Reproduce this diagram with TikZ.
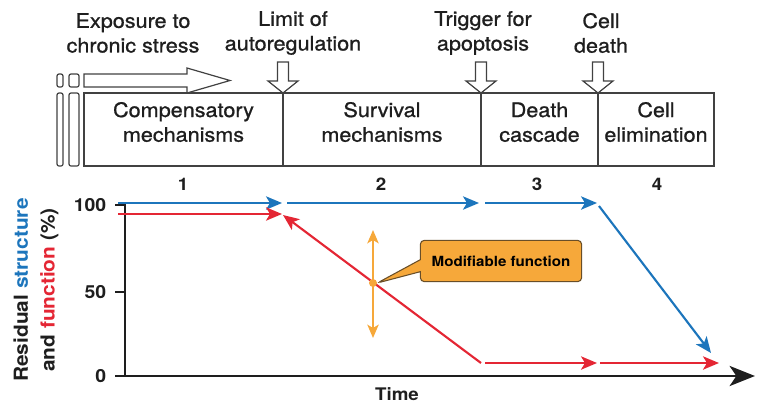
\documentclass[tikz,border=0pt]{standalone}
\usepackage{fontspec}
\setmainfont{TeX Gyre Heros}[FakeStretch=1.08,UprightFeatures={FakeBold=0.9}]
\usetikzlibrary{arrows.meta,fit,shapes.callouts}
\definecolor{strclr}{RGB}{28,117,188}
\definecolor{fnclr}{RGB}{228,38,52}
\definecolor{modclr}{RGB}{246,168,58}
\definecolor{modedge}{RGB}{105,78,40}
\definecolor{boxclr}{RGB}{65,65,65}
\definecolor{inkclr}{RGB}{30,30,30}
\tikzset{
  phase/.style={draw=boxclr,line width=0.9pt,inner sep=0pt,align=center,text=inkclr,
                font=\fontsize{15}{18.5}\selectfont},
  event/.style={align=center,text=inkclr,font=\fontsize{15}{18.5}\selectfont},
  stagenum/.style={text=inkclr,font=\bfseries\fontsize{13}{15}\selectfont},
  ticklbl/.style={anchor=east,text=inkclr,font=\bfseries\fontsize{13.5}{15}\selectfont},
  blockarrow/.style={draw=boxclr,line width=0.9pt,fill=white,line join=miter},
  slot/.style={draw=boxclr,line width=0.9pt,rounded corners=1.5pt},
  trend/.style={line width=1.6pt,-{Stealth[length=12pt,width=10pt,inset=3pt]}},
  axis/.style={line width=2.2pt,draw=inkclr},
  modbox/.style={rectangle callout,draw=modedge,fill=modclr,line width=0.8pt,
                 rounded corners=3pt,minimum width=121pt,minimum height=31pt,
                 callout pointer width=9pt,font=\bfseries\fontsize{10.5}{12}\selectfont},
}

\begin{document}
\begin{tikzpicture}[x=0.75pt,y=-0.75pt]
\useasboundingbox (0,0) rectangle (767,415);

% event labels
\node[event] (expo) at (133,33) {Exposure to\\chronic stress};
\node[event] (limit) at (293,33) {Limit of\\autoregulation};
\node[event] (trig) at (483,33) {Trigger for\\apoptosis};
\node[event] (death) at (601,33) {Cell\\death};

% phase boxes
\node[phase,fit={(84,93) (283,166)}] (comp) {Compensatory\\mechanisms};
\node[phase,fit={(283,93) (481,166)}] (surv) {Survival\\mechanisms};
\node[phase,fit={(481,93) (598,166)}] (casc) {Death\\cascade};
\node[phase,fit={(598,93) (714,166)}] (elim) {Cell\\elimination};

% slots and stress arrow
\draw[slot] (57,74) rectangle (63,87);
\draw[slot] (69,74) rectangle (79,87);
\draw[slot] (57,93) rectangle (63,166);
\draw[slot] (69,93) rectangle (79,166);
\draw[blockarrow] (84,74) -- (187,74) -- (187,68) -- (230,80.5)
  -- (187,93) -- (187,87) -- (84,87) -- cycle;
\foreach \x in {283,481,598}
  \draw[blockarrow] (\x-5.5,62) -- (\x+5.5,62) -- (\x+5.5,81) -- (\x+15,81)
    -- (\x,93) -- (\x-15,81) -- (\x-5.5,81) -- cycle;

% stage numbers
\node[stagenum] (n1) at (183,184) {1};
\node[stagenum] (n2) at (381,184) {2};
\node[stagenum] (n3) at (537,184) {3};
\node[stagenum] (n4) at (657,184) {4};

% axes
\coordinate (yhi) at (125,203);
\coordinate (orig) at (125,376);
\coordinate (xlo) at (115,376);
\coordinate (xhi) at (755,376);
\draw[axis] (yhi) -- (orig);
\draw[axis,-{Stealth[length=19pt,width=15pt,inset=5pt]}] (xlo) -- (xhi);
\foreach \v/\y in {100/205,50/292,0/376} {
  \draw[axis,line width=1.6pt] (115,\y) -- (125,\y);
  \node[ticklbl] (t\v) at (111,\y) {\v};
}
\node[text=inkclr,font=\bfseries\fontsize{13}{15}\selectfont] (time) at (397,394) {Time};
\node[rotate=90,align=center,text=inkclr,font=\bfseries\fontsize{14.5}{20}\selectfont] (ylbl) at (36,290)
  {Residual \textcolor{strclr}{structure}\\and \textcolor{fnclr}{function} (\%)};

% structure
\coordinate (s0) at (118,203);
\coordinate (s1) at (282,203);
\coordinate (s2) at (287,203);
\coordinate (s3) at (479,203);
\coordinate (s4) at (485,203);
\coordinate (s5) at (597,203);
\coordinate (s6) at (599,206);
\coordinate (s7) at (711,353);
\draw[trend,strclr] (s0) -- (s1);
\draw[trend,strclr] (s2) -- (s3);
\draw[trend,strclr] (s4) -- (s5);
\draw[trend,strclr] (s6) -- (s7);

% function
\coordinate (f0) at (118,214);
\coordinate (f1) at (282,214);
\coordinate (f2) at (283,215);
\coordinate (f3) at (481,363);
\coordinate (f4) at (485,363);
\coordinate (f5) at (597,363);
\coordinate (f6) at (600,363);
\coordinate (f7) at (719,363);
\draw[trend,fnclr] (f0) -- (f1);
\draw[trend,fnclr,{Stealth[length=12pt,width=10pt,inset=3pt]}-] (f2) -- (f3);
\draw[trend,fnclr] (f4) -- (f5);
\draw[trend,fnclr] (f6) -- (f7);

% modifiable function
\coordinate (mtop) at (373,230);
\coordinate (mbot) at (373,338);
\draw[line width=1.6pt,modclr,{Stealth[length=10pt,width=8.5pt,inset=2.5pt]}-{Stealth[length=10pt,width=8.5pt,inset=2.5pt]}] (mtop) -- (mbot);
\node[circle,fill=modclr,inner sep=0pt,minimum size=6pt] (dot) at (373,283) {};
\node[modbox,callout absolute pointer={(dot.east)}] (mod) at (501,261) {Modifiable function};
\end{tikzpicture}
\end{document}
